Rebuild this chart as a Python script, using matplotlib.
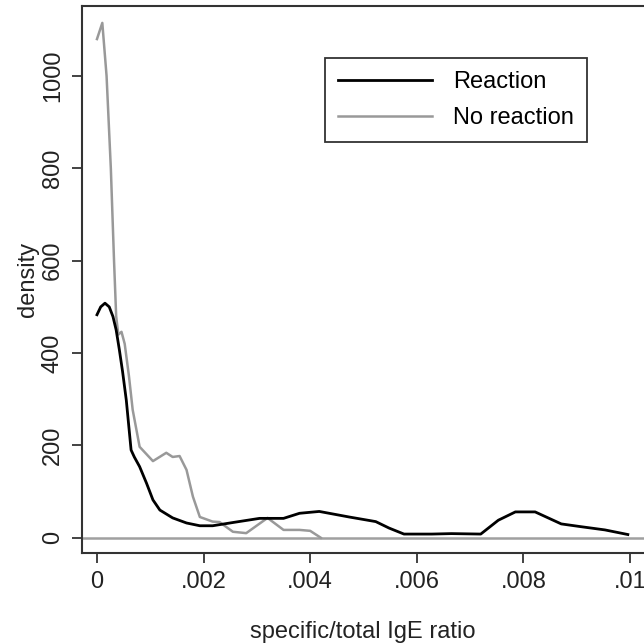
import matplotlib
matplotlib.use("Agg")
import matplotlib.pyplot as plt

plt.rcParams['font.family'] = ['Liberation Sans', 'DejaVu Sans']

# Reaction (black)
x_reaction = [0.0, 0.00007, 0.00015, 0.00023, 0.0003, 0.00036, 0.00042, 0.00048, 0.00055, 0.00064,
              0.0007, 0.0008, 0.00093, 0.00105, 0.00118,
              0.00142, 0.00168, 0.00193, 0.00217, 0.00255, 0.00305, 0.0035, 0.0038, 0.00417,
              0.00473, 0.00523, 0.00548, 0.00576, 0.00628, 0.00665, 0.0072, 0.00753, 0.00785,
              0.00822, 0.00871, 0.00908, 0.00953, 0.00996]
y_reaction = [483, 500, 508, 500, 479, 450, 407, 360, 298, 190,
              175, 154, 118, 82, 60,
              43, 32, 26, 26, 33, 42, 42, 53, 57,
              45, 35, 21, 8, 8, 9, 8, 38, 56,
              56, 30, 24, 17, 7]

# No reaction (gray)
x_noreact = [0.0, 0.0001, 0.00018, 0.00026, 0.00032, 0.00036, 0.0004, 0.00046, 0.00052, 0.0006,
             0.00067, 0.0008, 0.00105, 0.0013,
             0.00142, 0.00155, 0.00168, 0.0018, 0.00193, 0.00217, 0.0023, 0.00255, 0.0028,
             0.0032, 0.0035, 0.0038, 0.004, 0.0042]
y_noreact = [1080, 1115, 1000, 800, 600, 480, 440, 446, 420, 350,
             277, 197, 166, 184,
             175, 177, 147, 89, 45, 35, 34, 13, 10,
             43, 17, 17, 15, 0]

xticks = [0, 0.002, 0.004, 0.006, 0.008, 0.01]
xticklabels = ['0', '.002', '.004', '.006', '.008', '.01']
yticks = [0, 200, 400, 600, 800, 1000]
yticklabels = ['0', '200', '400', '600', '800', '1000']

fig = plt.figure(figsize=(6.44, 6.43), dpi=100)
ax = fig.add_axes([82/644, 90/643, 1 - 82/644, 547/643])

ax.axhline(0, color='#a0a0a0', lw=1.8, zorder=1)
ax.plot(x_reaction, y_reaction, color='black', lw=2.0, label='Reaction', zorder=3)
ax.plot(x_noreact, y_noreact, color='#999999', lw=1.8, label='No reaction', zorder=2)

ax.set_xlim(-0.000281, 0.010263)
ax.set_ylim(-33, 1151.6)
ax.set_xticks(xticks)
ax.set_xticklabels(xticklabels)
ax.set_yticks(yticks)
ax.set_yticklabels(yticklabels, rotation=90, va='center')
ax.tick_params(axis='both', labelsize=17, length=7, width=1.2, colors='#222222', pad=6)
ax.spines['right'].set_visible(False)
for s in ['left', 'bottom', 'top']:
    ax.spines[s].set_linewidth(1.5)
    ax.spines[s].set_color('#333333')

ax.set_ylabel('density', fontsize=17, color='#222222', labelpad=2)
ax.set_xlabel('specific/total IgE ratio', fontsize=17, color='#222222', labelpad=20)

leg = ax.legend(loc='upper left', bbox_to_anchor=(0.432, 0.905), fontsize=17,
                handlelength=4.0, fancybox=False, edgecolor='#333333', framealpha=1,
                borderpad=0.55, labelspacing=0.6, handletextpad=0.9, borderaxespad=0)
leg.get_frame().set_linewidth(1.3)

fig.savefig('out.png', dpi=100)
